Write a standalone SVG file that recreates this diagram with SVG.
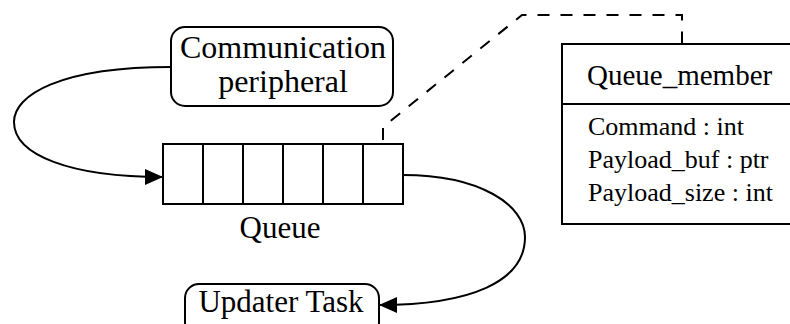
<svg xmlns="http://www.w3.org/2000/svg" width="790" height="324" viewBox="0 0 790 324">
<defs>
<marker id="arr" markerWidth="18" markerHeight="16" refX="18" refY="8" orient="auto" markerUnits="userSpaceOnUse">
<path d="M0,0 L18,8 L0,16 Z" fill="#000"/>
</marker>
<style>
.box{fill:#fff;stroke:#000;stroke-width:2}
.t{font-family:"Liberation Serif","Times New Roman",serif;fill:#000}
.lbl{font-size:31px;text-anchor:middle}
.big{font-size:32px}
.attr{font-size:26px}
.edge{fill:none;stroke:#000;stroke-width:2}
.dash{fill:none;stroke:#000;stroke-width:2;stroke-dasharray:12,11}
</style>
</defs>
<rect width="790" height="324" fill="#fff"/>
<g id="connectors">
<path class="edge" d="M171,67 C60,67 14,95 14,122 C14,155 70,177 163,177" marker-end="url(#arr)"/>
<path class="edge" d="M403,175 C480,175 525,205 525,237 C525,282 470,305 379,305" marker-end="url(#arr)"/>
<path class="dash" d="M383,163 L383,127 L522,15 L682,15 L682,44"/>
</g>
<g id="comm">
<rect class="box" x="171" y="27" width="222" height="79" rx="14"/>
<text class="t lbl big" x="283" y="58">Communication</text>
<text class="t lbl big" x="283" y="92">peripheral</text>
</g>
<g id="queue">
<rect class="box" x="163" y="144" width="240" height="60"/>
<path d="M203,144V204M243,144V204M283,144V204M323,144V204M363,144V204" stroke="#000" stroke-width="2"/>
<text class="t lbl" x="280" y="238">Queue</text>
</g>
<g id="updater">
<rect class="box" x="185" y="284" width="194" height="52" rx="14"/>
<text class="t lbl" x="281" y="312">Updater Task</text>
</g>
<g id="queue_member">
<rect class="box" x="562" y="44" width="240" height="180"/>
<line x1="562" y1="104" x2="790" y2="104" stroke="#000" stroke-width="2"/>
<text class="t" x="587" y="85" font-size="29">Queue_member</text>
<text class="t attr" x="588" y="135">Command : int</text>
<text class="t attr" x="588" y="168">Payload_buf : ptr</text>
<text class="t attr" x="588" y="201">Payload_size : int</text>
</g>
</svg>
